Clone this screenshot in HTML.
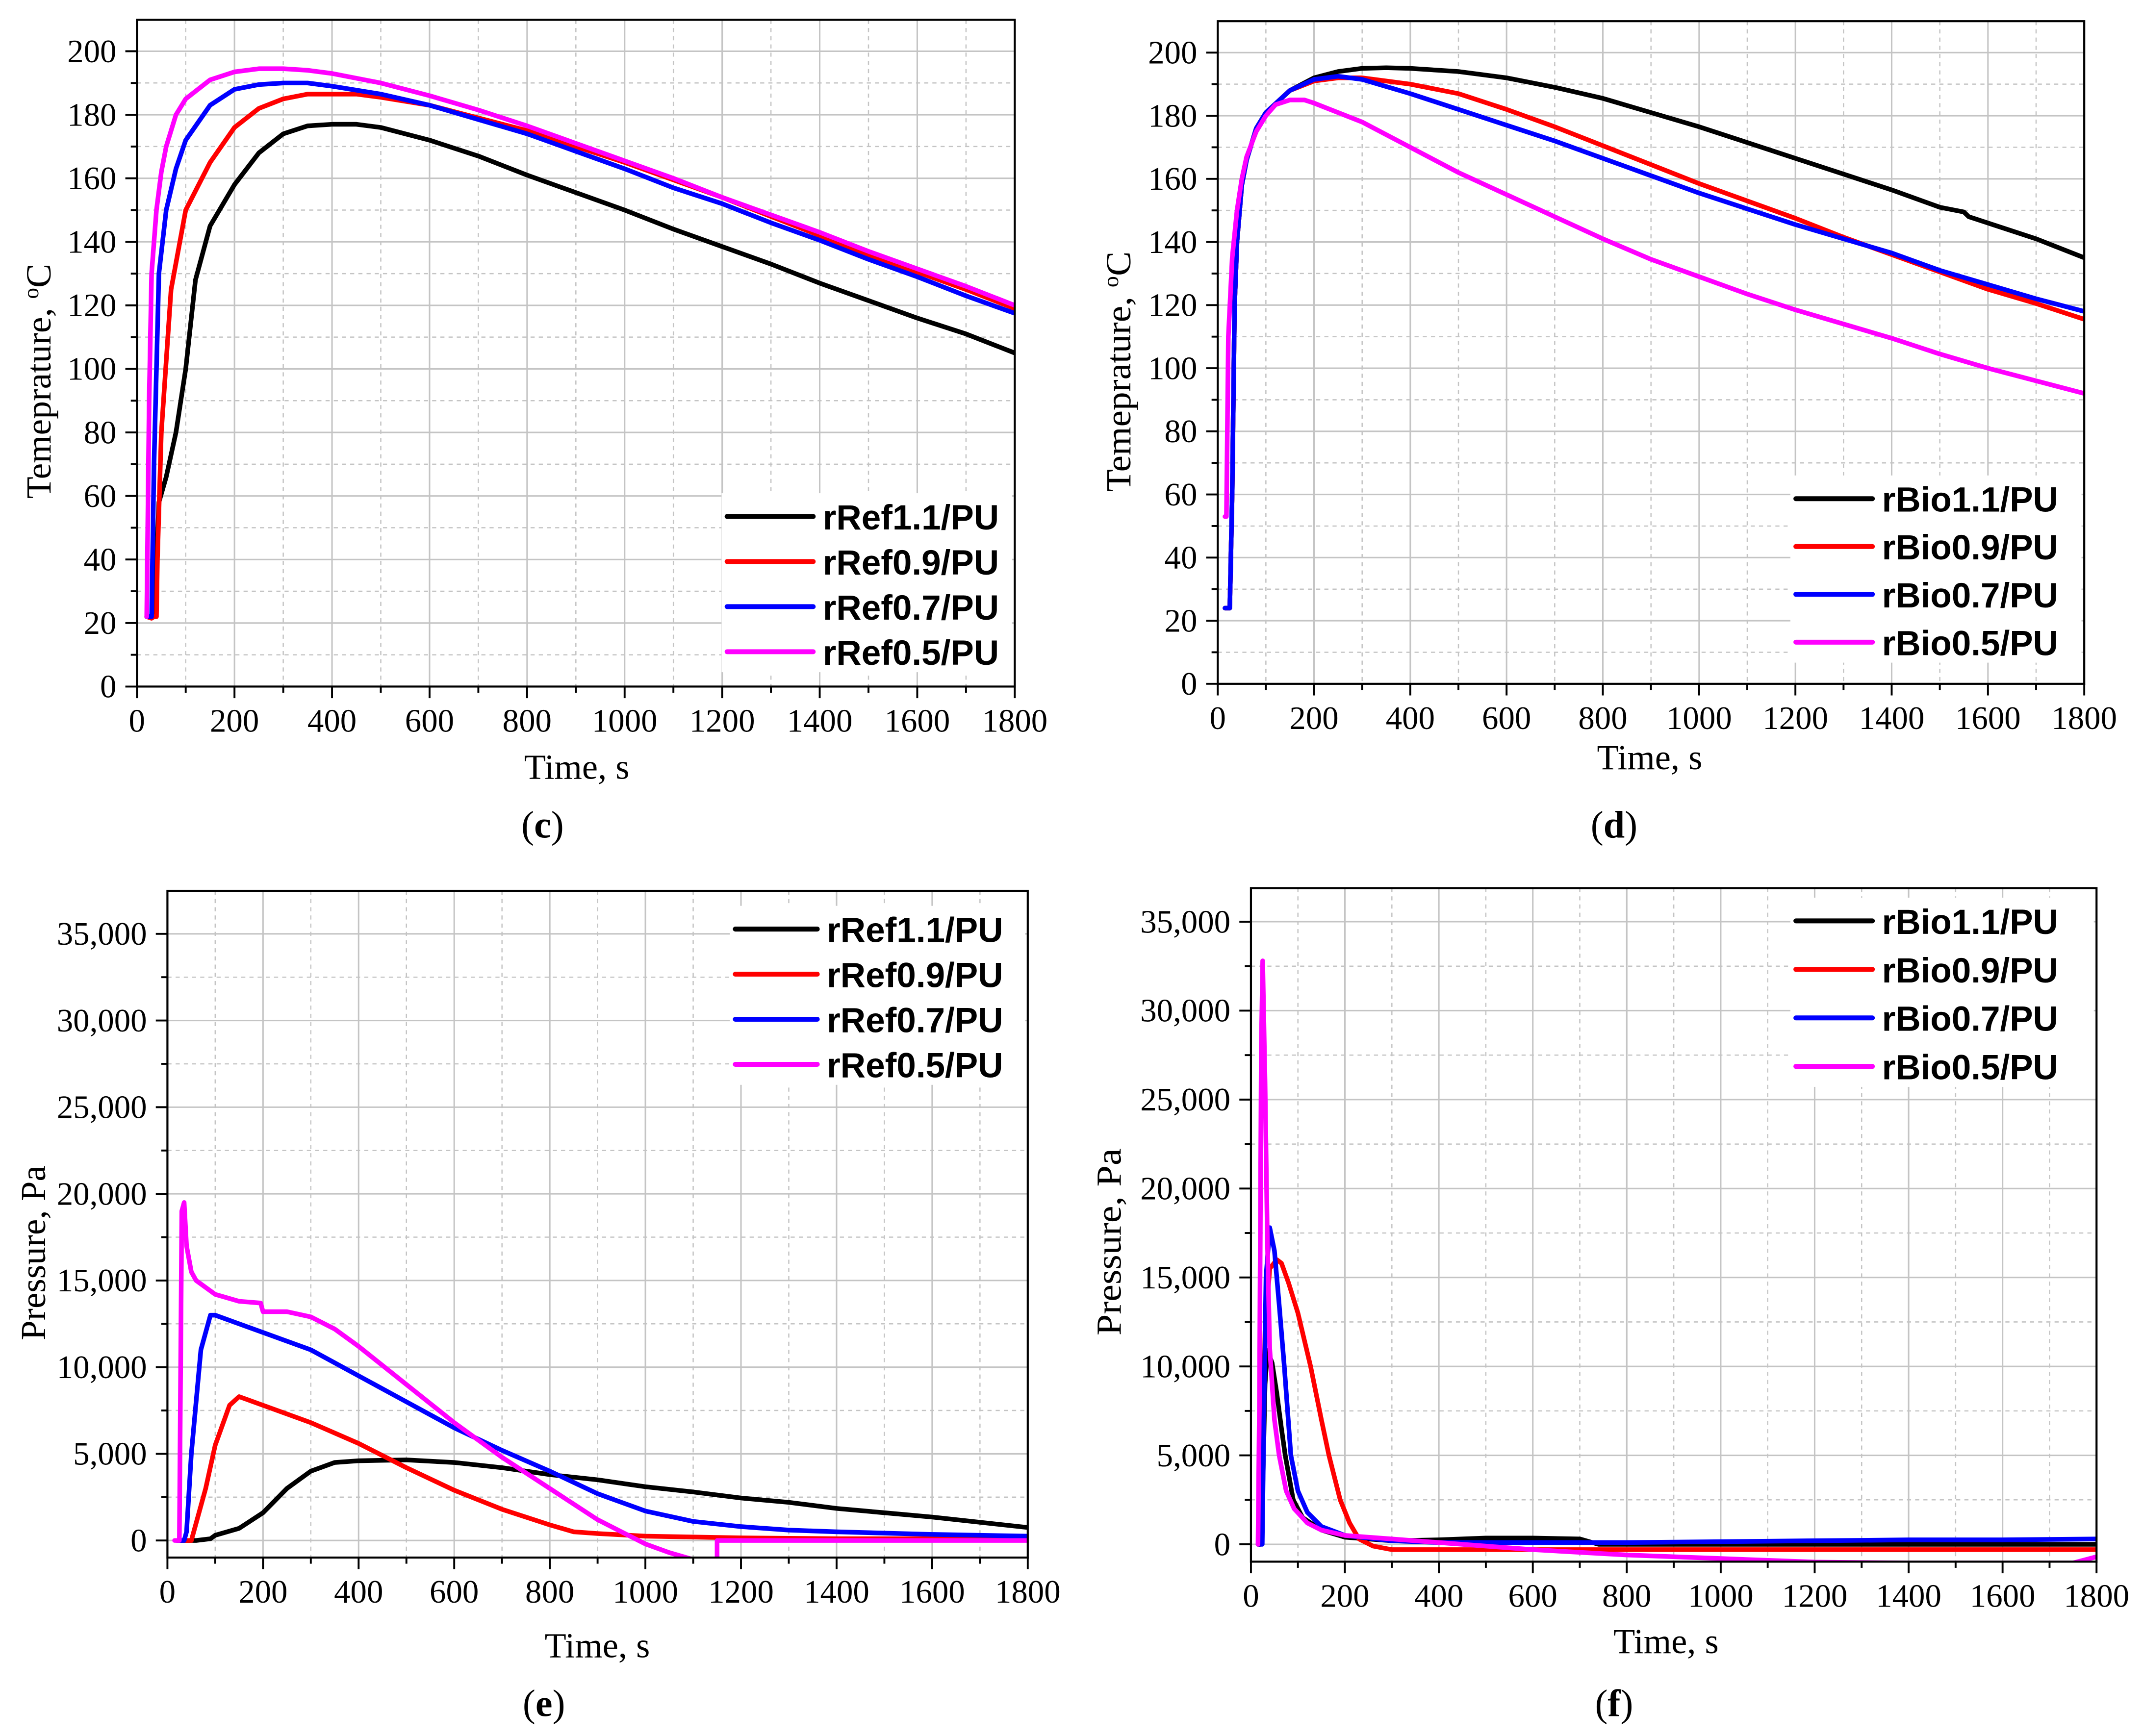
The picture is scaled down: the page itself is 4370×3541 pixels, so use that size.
<!DOCTYPE html>
<html><head><meta charset="utf-8"><style>
html,body{margin:0;padding:0;background:#fff;}
svg{display:block;}
.tick{font-family:"Liberation Serif",serif;font-size:24px;fill:#000;}
.title{font-family:"Liberation Serif",serif;font-size:26px;fill:#000;}
.plab{font-family:"Liberation Serif",serif;font-size:28px;fill:#000;}
.leg{font-family:"Liberation Sans",sans-serif;font-size:25.5px;font-weight:bold;fill:#000;}
</style></head><body>
<svg id="fig" xmlns="http://www.w3.org/2000/svg" width="4370" height="3541" viewBox="0 0 1568 1270.6" preserveAspectRatio="none"></svg>
<script>
// ---------- data ----------
const xTicks = [0,200,400,600,800,1000,1200,1400,1600,1800];
const tempTicks = [0,20,40,60,80,100,120,140,160,180,200];
const presTicks = [0,5000,10000,15000,20000,25000,30000,35000];
const presTickLabels = ["0","5,000","10,000","15,000","20,000","25,000","30,000","35,000"];
const colors = ["#000000","#ff0000","#0000ff","#ff00ff"];
const refNames = ["rRef1.1/PU","rRef0.9/PU","rRef0.7/PU","rRef0.5/PU"];
const bioNames = ["rBio1.1/PU","rBio0.9/PU","rBio0.7/PU","rBio0.5/PU"];

// panel c
const cT0 = [20,35,40,45,60,80,100,120,150,200,250,300,350,400,450,500,600,700,800,900,1000,1100,1200,1300,1400,1500,1600,1700,1800];
const cV0 = [22,22,40,58,66,80,100,128,145,158,168,174,176.5,177,177,176,172,167,161,155.5,150,144,138.5,133,127,121.5,116,111,105];
const cT1 = [20,30,35,40,42,50,70,100,150,200,250,300,350,400,450,500,600,700,800,900,1000,1100,1200,1300,1400,1500,1600,1700,1800];
const cV1 = [22,21.5,22,22,40,80,125,150,165,176,182,185,186.5,186.5,186.5,185.5,183,179,175,170,165,159.5,154,148,142,136,130.5,125,119];
const cT2 = [20,30,35,45,60,80,100,150,200,250,300,350,400,500,600,700,800,900,1000,1100,1200,1300,1400,1500,1600,1700,1800];
const cV2 = [22,22,70,130,150,163,172,183,188,189.5,190,190,189,186.5,183,178.5,174,168.5,163,157,152,146,140.5,134.5,129,123,117.5];
const cT3 = [20,25,30,40,50,60,80,100,150,200,250,300,350,400,500,600,700,800,900,1000,1100,1200,1300,1400,1500,1600,1700,1800];
const cV3 = [22,90,130,150,162,170,180,185,191,193.5,194.5,194.5,194,193,190,186,181.5,176.5,171,165.5,160,154,148.5,143,137,131.5,126,120];

// panel d
const dT0 = [15,25,30,35,40,50,60,80,100,150,200,250,300,350,400,500,600,700,800,900,1000,1100,1200,1300,1400,1500,1550,1560,1600,1700,1800];
const dV0 = [24,24,60,120,140,158,166,176,181,188,192,194,195,195.2,195,194,192,189,185.5,181,176.5,171.5,166.5,161.5,156.5,151,149.5,148,146,141,135];
const dT1 = [15,25,30,35,40,50,60,80,100,150,200,250,300,400,500,600,700,800,900,1000,1100,1200,1300,1400,1500,1600,1700,1800];
const dV1 = [24,24,60,120,140,158,166,176,181,188,191,192,192,190,187,182,176.5,170.5,164.5,158.5,153,147.5,141.5,136,130.5,125,120.5,115.5];
const dT2 = [15,25,30,35,40,50,60,80,100,150,200,250,300,400,500,600,700,800,900,1000,1100,1200,1300,1400,1500,1600,1700,1800];
const dV2 = [24,24,60,120,140,158,166,176,181,188,191.5,192.5,191.5,187,182,177,172,166.5,161,155.5,150.5,145.5,141,136.5,131,126.5,122,118];
const dT3 = [15,18,22,30,40,50,60,80,100,120,150,180,200,300,400,500,600,700,800,900,1000,1100,1200,1300,1400,1500,1600,1700,1800];
const dV3 = [53,53,110,135,150,160,167,175,180,183.5,185,185,184,178,170,162,155,148,141,134.5,129,123.5,118.5,114,109.5,104.5,100,96,92];

// panel e
const eT0 = [20,60,90,100,150,200,250,300,350,400,500,600,700,800,900,1000,1100,1200,1300,1400,1500,1600,1700,1800];
const eV0 = [0,0,100,300,700,1600,3000,4000,4500,4600,4650,4500,4200,3800,3500,3100,2800,2450,2200,1850,1600,1350,1050,750];
const eT1 = [20,50,60,80,100,130,150,170,200,300,400,500,600,700,800,850,900,1000,1100,1200,1400,1600,1800];
const eV1 = [0,0,1000,3000,5500,7800,8300,8100,7800,6800,5600,4200,2900,1800,900,500,400,250,200,150,100,100,100];
const eT2 = [20,35,40,50,70,90,100,150,200,300,400,500,600,700,800,900,1000,1100,1200,1300,1400,1600,1800];
const eV2 = [0,0,500,5000,11000,13000,13000,12500,12000,11000,9500,8000,6500,5200,4000,2700,1700,1100,800,600,500,350,250];
const eT3 = [15,25,30,35,40,50,60,100,150,195,200,250,300,350,400,500,600,700,800,900,1000,1050,1100,null,1150,1150,1200,1400,1600,1800];
const eV3 = [0,0,19000,19500,17000,15500,15000,14200,13800,13700,13200,13200,12900,12200,11200,9000,6800,4800,3000,1200,-200,-700,-1100,null,-1200,0,0,0,0,0];

// panel f
const fT0 = [15,20,25,30,35,45,55,65,73,90,110,150,200,300,400,500,600,700,740,800,1000,1200,1400,1600,1800];
const fV0 = [0,0,3000,9000,10900,10200,8500,6500,5000,2500,1500,800,400,200,250,350,350,300,0,0,0,0,0,0,0];
const fT1 = [15,20,25,30,40,55,65,80,100,127,150,166,190,210,230,260,300,400,600,800,1000,1400,1800];
const fV1 = [0,0,5000,12000,15500,16000,15800,14700,13000,10000,7000,5000,2500,1200,300,-100,-300,-300,-300,-300,-300,-300,-300];
const fT2 = [15,20,24,28,32,40,50,60,71,85,100,120,150,200,300,400,600,800,1000,1200,1400,1600,1800];
const fV2 = [0,0,0,8000,15000,17800,16500,13500,10000,5000,3000,1800,1000,500,200,100,100,100,150,200,250,250,300];
const fT3 = [15,18,22,25,30,35,40,50,60,75,92,120,150,200,300,400,500,600,800,1000,1200,1400,1600,1750,1800];
const fV3 = [0,8000,28000,32800,26000,17000,11000,7000,5000,3000,2000,1200,800,500,300,100,-100,-300,-600,-800,-1000,-1050,-1050,-1050,-700];

// ---------- drawing ----------
const NS = "http://www.w3.org/2000/svg";
const svg = document.getElementById("fig");
function mk(tag, attrs, parent){
  const e = document.createElementNS(NS, tag);
  for (const k in attrs) e.setAttribute(k, attrs[k]);
  (parent||svg).appendChild(e);
  return e;
}

function panel(p){
  const g = mk("g", {});
  
  
  const X = v => p.x0 + (v - 0) / 1800 * (p.x1 - p.x0);
  const Y = v => p.ya + (v - p.va) / (p.vb - p.va) * (p.yb - p.ya);
  const L = p.x0, R = p.x1, T = p.top, B = p.bottom;
  const cid = "clip-" + p.id;
  const defs = mk("defs", {}, g);
  const cp = mk("clipPath", {id: cid}, defs);
  mk("rect", {x: L, y: T, width: R - L, height: B - T}, cp);
  // grid
  const grid = mk("g", {}, g);
  
  
  for (let v = 100; v < 1800; v += 200) mk("line", {x1: X(v), x2: X(v), y1: T, y2: B, stroke: "#c4c4c4", "stroke-width": 0.9, "stroke-dasharray": "3,3"}, grid);
  for (let v = 200; v < 1800; v += 200) mk("line", {x1: X(v), x2: X(v), y1: T, y2: B, stroke: "#c4c4c4", "stroke-width": 1.1}, grid);
  const yt = p.yTicks;
  const minorStep = (yt[1] - yt[0]) / 2;
  for (let v = yt[0] + minorStep; Y(v) > T; v += 2 * minorStep) if (Y(v) < B) mk("line", {x1: L, x2: R, y1: Y(v), y2: Y(v), stroke: "#c4c4c4", "stroke-width": 0.9, "stroke-dasharray": "3,3"}, grid);
  yt.forEach(v => { if (Y(v) > T && Y(v) < B - 1) mk("line", {x1: L, x2: R, y1: Y(v), y2: Y(v), stroke: "#c4c4c4", "stroke-width": 1.1}, grid); });
  // series
  p.series.forEach((s, i) => {
    let d = "", pen = false;
    for (let k = 0; k < s.t.length; k++) {
      if (s.t[k] === null) { pen = false; continue; }
      d += (pen ? "L" : "M") + X(s.t[k]).toFixed(2) + "," + Y(s.v[k]).toFixed(2);
      pen = true;
    }
    const path = mk("path", {d: d, fill: "none", stroke: colors[i], "stroke-width": 3.4, "stroke-linejoin": "round", "stroke-linecap": "round", "clip-path": "url(#" + cid + ")"}, g);
    
    
  });
  // frame
  const fr = mk("rect", {x: L, y: T, width: R - L, height: B - T, fill: "none", stroke: "#000", "stroke-width": 1.5}, g);
  
  
  // x ticks
  const xa = mk("g", {}, g);
  
  
  for (let v = 100; v < 1800; v += 200) mk("line", {x1: X(v), x2: X(v), y1: B, y2: B + 4.5, stroke: "#000", "stroke-width": 1.4}, xa);
  xTicks.forEach(v => {
    mk("line", {x1: X(v), x2: X(v), y1: B, y2: B + 8.5, stroke: "#000", "stroke-width": 1.4}, xa);
    const t = mk("text", {x: X(v), y: B + 33, "text-anchor": "middle", class: "tick"}, xa);
    t.textContent = v;
    
    
  });
  // y ticks
  const ya = mk("g", {}, g);
  
  
  for (let v = yt[0] + minorStep; Y(v) > T; v += 2 * minorStep) if (Y(v) < B) mk("line", {x1: L - 4.5, x2: L, y1: Y(v), y2: Y(v), stroke: "#000", "stroke-width": 1.4}, ya);
  yt.forEach((v, k) => {
    mk("line", {x1: L - 8.5, x2: L, y1: Y(v), y2: Y(v), stroke: "#000", "stroke-width": 1.4}, ya);
    const t = mk("text", {x: L - 15, y: Y(v) + 8, "text-anchor": "end", class: "tick"}, ya);
    t.textContent = p.yLabels[k];
    
    
  });
  // titles
  const xt = mk("text", {x: p.xTitleX, y: p.xTitleY, "text-anchor": "middle", class: "title"}, g);
  xt.textContent = "Time, s";
  
  
  const ytt = mk("text", {x: 0, y: 0, "text-anchor": "middle", class: "title", textLength: p.yTitleLen, lengthAdjust: "spacingAndGlyphs", transform: "translate(" + p.yTitleX + "," + p.yTitleY + ") rotate(-90)"}, g);
  if (p.temp) { ytt.innerHTML = 'Temeprature, <tspan baseline-shift="super" font-size="16">o</tspan>C'; }
  else ytt.textContent = "Pressure, Pa";
  
  
  const pl = mk("text", {x: p.labX, y: p.labY, "text-anchor": "middle", class: "plab"}, g);
  pl.innerHTML = '(<tspan font-weight="bold">' + p.letter + '</tspan>)';
  
  
  // legend
  const lg = mk("g", {}, g);
  
  
  mk("rect", {x: p.lx - 4, y: p.ly - 17, width: R - p.lx + 2, height: p.lstep * 3 + 32, fill: "#fff"}, lg);
  p.names.forEach((n, i) => {
    const y = p.ly + i * p.lstep;
    const e = mk("g", {}, lg);
    
    
    mk("line", {x1: p.lx, x2: p.lx + p.llen, y1: y, y2: y, stroke: colors[i], "stroke-width": 3.6, "stroke-linecap": "round"}, e);
    const t = mk("text", {x: p.lx + p.llen + 7, y: y + 9.5, class: "leg"}, e);
    t.textContent = n;
  });
}

const tempLabels = tempTicks.map(String);
panel({id: "panel-c", letter: "c", temp: true, x0: 100.2, x1: 742.5, top: 14.5, bottom: 502.5, ya: 502.5, va: 0, yb: 37.5, vb: 200,
  yTicks: tempTicks, yLabels: tempLabels, xTitleX: 422, xTitleY: 570, yTitleX: 37, yTitleY: 279, yTitleLen: 172, labX: 397, labY: 613,
  names: refNames, lx: 532, ly: 378, lstep: 33, llen: 63,
  series: [{t: cT0, v: cV0}, {t: cT1, v: cV1}, {t: cT2, v: cV2}, {t: cT3, v: cV3}]});
panel({id: "panel-d", letter: "d", temp: true, x0: 891, x1: 1525, top: 15.5, bottom: 500.5, ya: 500.5, va: 0, yb: 38.5, vb: 200,
  yTicks: tempTicks, yLabels: tempLabels, xTitleX: 1207, xTitleY: 563, yTitleX: 827, yTitleY: 272, yTitleLen: 176, labX: 1181, labY: 613,
  names: bioNames, lx: 1314, ly: 365, lstep: 35, llen: 56,
  series: [{t: dT0, v: dV0}, {t: dT1, v: dV1}, {t: dT2, v: dV2}, {t: dT3, v: dV3}]});
panel({id: "panel-e", letter: "e", temp: false, x0: 122.5, x1: 752, top: 652, bottom: 1140, ya: 1127.5, va: 0, yb: 683.5, vb: 35000,
  yTicks: presTicks, yLabels: presTickLabels, xTitleX: 437, xTitleY: 1213, yTitleX: 33, yTitleY: 917, yTitleLen: 128, labX: 398, labY: 1256,
  names: refNames, lx: 538, ly: 680, lstep: 33, llen: 60,
  series: [{t: eT0, v: eV0}, {t: eT1, v: eV1}, {t: eT2, v: eV2}, {t: eT3, v: eV3}]});
panel({id: "panel-f", letter: "f", temp: false, x0: 915.3, x1: 1534, top: 650, bottom: 1143, ya: 1130.3, va: 0, yb: 674.6, vb: 35000,
  yTicks: presTicks, yLabels: presTickLabels, xTitleX: 1219, xTitleY: 1210, yTitleX: 820, yTitleY: 909, yTitleLen: 137, labX: 1181, labY: 1256,
  names: bioNames, lx: 1314, ly: 674, lstep: 35.5, llen: 56,
  series: [{t: fT0, v: fV0}, {t: fT1, v: fV1}, {t: fT2, v: fV2}, {t: fT3, v: fV3}]});
</script>
</body></html>
